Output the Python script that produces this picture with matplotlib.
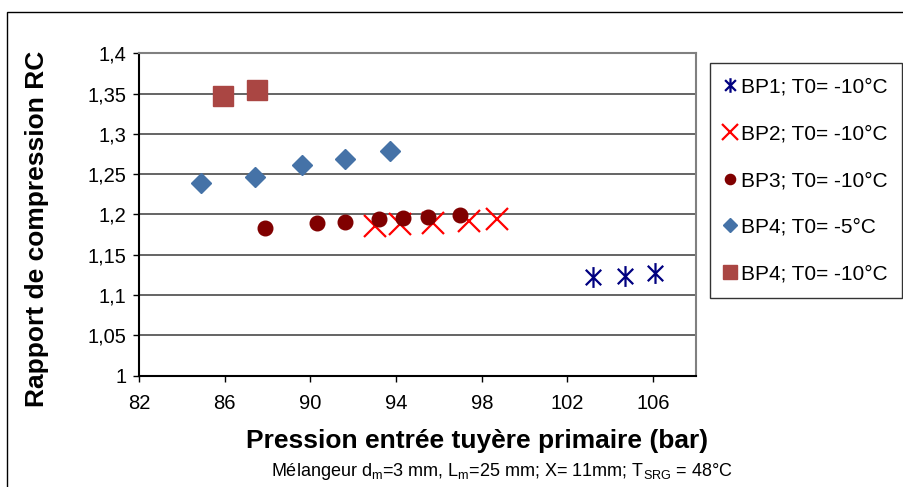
# -*- coding: utf-8 -*-
import matplotlib.pyplot as plt
from matplotlib.patches import Rectangle
from matplotlib.path import Path
from matplotlib.ticker import FuncFormatter, MultipleLocator

plt.rcParams["font.family"] = ["Liberation Sans", "DejaVu Sans"]
plt.rcParams["mathtext.fontset"] = "custom"
plt.rcParams["mathtext.rm"] = "Liberation Sans"

# Données
bp1_x = [103.2, 104.7, 106.1]
bp1_y = [1.122, 1.124, 1.127]

bp2_x = [93.0, 94.2, 95.7, 97.4, 98.7]
bp2_y = [1.186, 1.188, 1.189, 1.192, 1.194]

bp3_x = [87.9, 90.3, 91.6, 93.2, 94.3, 95.5, 97.0]
bp3_y = [1.183, 1.189, 1.191, 1.194, 1.196, 1.197, 1.199]

bp4a_x = [84.9, 87.4, 89.6, 91.6, 93.7]
bp4a_y = [1.239, 1.247, 1.262, 1.269, 1.279]

bp4b_x = [85.9, 87.5]
bp4b_y = [1.347, 1.354]

labels = ["BP1; T0= -10°C", "BP2; T0= -10°C", "BP3; T0= -10°C",
          "BP4; T0= -5°C", "BP4; T0= -10°C"]

# Astérisque façon Excel : X + trait vertical
asterisk = Path([(-1, -1), (1, 1), (-1, 1), (1, -1), (0, -1.35), (0, 1.35)],
                [Path.MOVETO, Path.LINETO, Path.MOVETO, Path.LINETO,
                 Path.MOVETO, Path.LINETO])


def virgule(v, pos):
    return f"{v:g}".replace(".", ",")


fig = plt.figure(figsize=(9.04, 4.87), dpi=100)
ax = fig.add_axes([0.1538, 0.2285, 0.7699 - 0.1538, 0.8906 - 0.2285])

ax.plot(bp1_x, bp1_y, linestyle="none", marker=asterisk, ms=15, mew=1.6,
        color="#000080", label=labels[0])
ax.plot(bp2_x, bp2_y, linestyle="none", marker="x", ms=16, mew=1.6,
        color="#FF0000", label=labels[1])
ax.plot(bp3_x, bp3_y, linestyle="none", marker="o", ms=10.5,
        color="#800000", label=labels[2])
ax.plot(bp4a_x, bp4a_y, linestyle="none", marker="D", ms=10,
        color="#4572A7", label=labels[3])
ax.plot(bp4b_x, bp4b_y, linestyle="none", marker="s", ms=14,
        color="#AA4643", label=labels[4])

ax.set_xlim(82, 108)
ax.set_ylim(1, 1.4)
ax.set_xticks([82, 86, 90, 94, 98, 102, 106])
ax.yaxis.set_major_locator(MultipleLocator(0.05))
ax.yaxis.set_major_formatter(FuncFormatter(virgule))
ax.tick_params(axis="both", labelsize=14.5, direction="out", length=4,
               width=1)
ax.tick_params(axis="y", pad=5)
ax.tick_params(axis="x", pad=9)
ax.grid(axis="y", color="#3a3a3a", linewidth=1.1)
ax.set_axisbelow(True)

for side in ["left", "bottom"]:
    ax.spines[side].set_color("black")
    ax.spines[side].set_linewidth(1.5)
for side in ["top", "right"]:
    ax.spines[side].set_color("#808080")
    ax.spines[side].set_linewidth(1.5)

# Titres des axes (placés comme dans Excel, pas centrés sur la zone de tracé)
fig.text(37 / 904, 1 - 229 / 487, "Rapport de compression RC", rotation=90,
         ha="center", va="center", fontsize=19, fontweight="bold")
fig.text(477 / 904, 1 - 441 / 487, "Pression entrée tuyère primaire (bar)",
         ha="center", va="center", fontsize=19, fontweight="bold")
fig.text(502 / 904, 1 - 471 / 487,
         r"Mélangeur d$_\mathregular{m}$=3 mm, L$_\mathregular{m}$=25 mm; "
         r"X= 11mm; T$_\mathregular{SRG}$ = 48°C",
         ha="center", va="center", fontsize=13)

leg = fig.legend(loc="upper left", bbox_to_anchor=(710 / 904, 1 - 63 / 487),
                 fontsize=15, frameon=True, fancybox=False, edgecolor="black",
                 handlelength=0.5, handletextpad=0.3, labelspacing=1.33,
                 borderpad=0.7, markerscale=0.7, borderaxespad=0)
leg.get_frame().set_linewidth(1)

# Cadre extérieur de la figure
fig.patches.append(Rectangle((7 / 904, -0.02), 1.0, 1 - 12 / 487 + 0.02,
                             transform=fig.transFigure, fill=False,
                             edgecolor="black", linewidth=1))

fig.savefig("out.png", dpi=100)
